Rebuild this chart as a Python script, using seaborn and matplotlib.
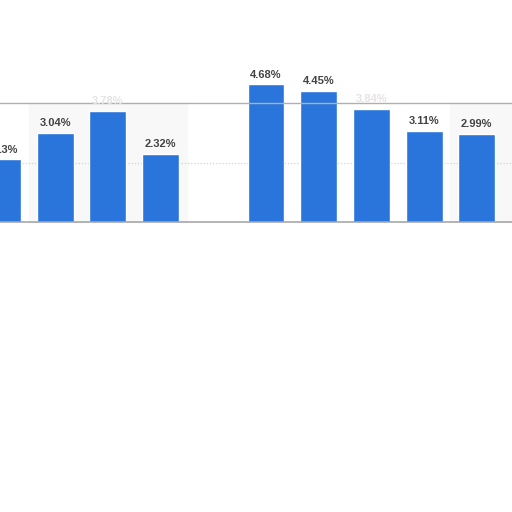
import numpy as np
import pandas as pd
import seaborn as sns
import matplotlib
matplotlib.use("Agg")
import matplotlib.pyplot as plt

# values (slot 5 is empty in the reference)
categories = ["c1", "c2", "c3", "c4", "c5", "c6", "c7", "c8", "c9", "c10"]
values = [2.13, 3.04, 3.78, 2.32, np.nan, 4.68, 4.45, 3.84, 3.11, 2.99]
labels = ["2.13%", "3.04%", "3.78%", "2.32%", "", "4.68%", "4.45%", "3.84%", "3.11%", "2.99%"]
hidden_labels = ["c3", "c8"]  # labels covered by the top rule in the reference

BAR = "#2a75db"
sns.set_theme(style="white")
plt.rcParams["font.family"] = ["Liberation Sans", "DejaVu Sans"]

df = pd.DataFrame({"cat": categories, "val": values})

fig = plt.figure(figsize=(5.12, 5.12), dpi=100)
ax = fig.add_axes([0, (512 - 222) / 512, 1, 119 / 512])

# light column bands behind some slots
ax.axvspan(0.5, 3.5, color="#f8f8f8", zorder=0)
ax.axvspan(8.5, 10, color="#f8f8f8", zorder=0)
ax.axhline(2, color="#d2d2d2", lw=0.9, ls=(0, (1, 1.5)), zorder=1)

sns.barplot(data=df, x="cat", y="val", order=categories, color=BAR,
            saturation=1, width=0.70, ax=ax, zorder=2)
for p in ax.patches:
    p.set_clip_on(False)

for i, (c, v, t) in enumerate(zip(categories, values, labels)):
    if np.isnan(v):
        continue
    col = "#e4e4e4" if c in hidden_labels else "#444444"
    ax.annotate(t, (i, v), xytext=(0, 3.5), textcoords="offset points",
                ha="center", va="bottom", fontsize=8, fontweight="bold",
                color=col, annotation_clip=False, zorder=3)

unit = 52.7
x0 = -2.5 / unit
ax.set_xlim(x0, x0 + 512 / unit)
ax.set_ylim(0, 4.05)
ax.set_xticks([])
ax.set_yticks([])
ax.set_xlabel("")
ax.set_ylabel("")
for s in ["left", "right"]:
    ax.spines[s].set_visible(False)
ax.spines["bottom"].set_color("#a0a0a0")
ax.spines["top"].set_color("#b0b0b0")
ax.spines["bottom"].set_linewidth(1.1)
ax.spines["top"].set_linewidth(1.0)
ax.patch.set_alpha(0)

fig.savefig("out.png", dpi=100)
